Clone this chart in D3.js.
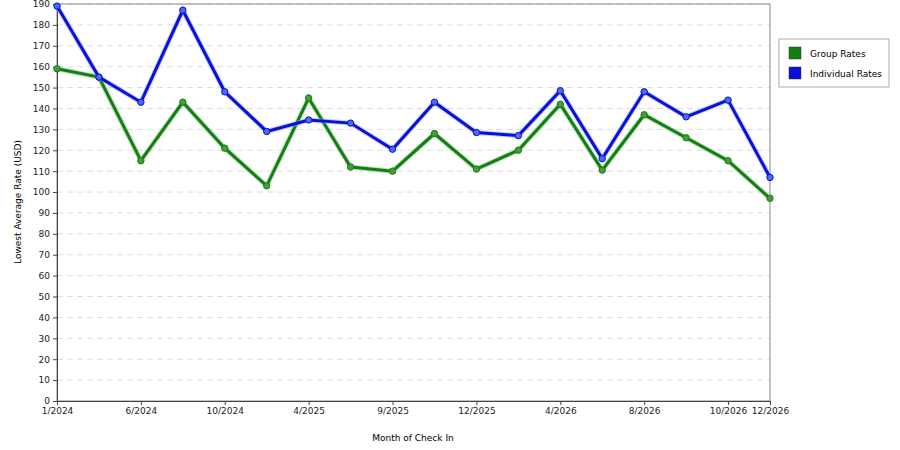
<!DOCTYPE html>
<html><head><meta charset="utf-8">
<script src="https://cdn.jsdelivr.net/npm/d3@7"></script>
<style>body{margin:0;background:#fff;font-family:"DejaVu Sans",sans-serif}</style>
</head><body><svg id="c" width="900" height="450"></svg>
<script>
const categories=["1/2024","3/2024","6/2024","8/2024","10/2024","1/2025","4/2025","6/2025","9/2025","11/2025","12/2025","2/2026","4/2026","6/2026","8/2026","9/2026","10/2026","12/2026"];
const tickLabels=["1/2024","","6/2024","","10/2024","","4/2025","","9/2025","","12/2025","","4/2026","","8/2026","","10/2026","12/2026"];
const groupRates=[159,155,115,143,121,103,145,112,110,128,111,120,142,110.5,137,126,115,97];
const individualRates=[189,155,143,187,148,129,134.5,133,120.5,143,128.5,127,148.5,116,148,136,144,107];
const yTicks=d3.range(0,191,10);
const svg=d3.select("#c");
const L=57,R=770,T=4,B=401;
const x=d3.scalePoint().domain(categories).range([L,R]);
const y=d3.scaleLinear().domain([0,190]).range([B,T]);
const g=svg.append("g");
g.selectAll("line.grid").data(yTicks.slice(1)).join("line").attr("x1",L).attr("x2",R)
 .attr("y1",d=>y(d)).attr("y2",d=>y(d)).attr("stroke","#ddd").attr("stroke-dasharray","6,4");
g.append("rect").attr("x",L).attr("y",T).attr("width",R-L).attr("height",B-T).attr("fill","none").attr("stroke","#888");
const ya=svg.append("g").attr("transform",`translate(${L},0)`).call(d3.axisLeft(y).tickValues(yTicks).tickSize(4).tickFormat(d3.format("d")));
const labeled=categories.filter((c,i)=>tickLabels[i]!=="");
const xa=svg.append("g").attr("transform",`translate(0,${B})`).call(d3.axisBottom(x).tickValues(labeled).tickSize(4).tickFormat(d=>tickLabels[categories.indexOf(d)]));
[ya,xa].forEach(a=>{a.select(".domain").attr("stroke","#444");a.selectAll("line").attr("stroke","#444");a.selectAll("text").attr("font-size",9).attr("fill","#222").attr("font-family","DejaVu Sans");});
svg.append("text").attr("x",413).attr("y",441).attr("text-anchor","middle").attr("font-size",9).text("Month of Check In");
svg.append("text").attr("transform","translate(21,202) rotate(-90)").attr("text-anchor","middle").attr("font-size",9).text("Lowest Average Rate (USD)");
const line=d3.line().x((d,i)=>x(categories[i])).y(d=>y(d));
[[groupRates,"#118011","#7fbf7f","#4a9a3a"],[individualRates,"#0a10d8","#8a9fff","#4a6ae8"]].forEach(([data,c,lc,mf])=>{
 svg.append("path").datum(data).attr("d",line).attr("fill","none").attr("stroke",lc).attr("stroke-width",5).attr("opacity",0.5);
 svg.append("path").datum(data).attr("d",line).attr("fill","none").attr("stroke",c).attr("stroke-width",3);
 svg.selectAll(null).data(data).join("circle").attr("cx",(d,i)=>x(categories[i])).attr("cy",d=>y(d)).attr("r",3.2).attr("fill",mf).attr("stroke",c).attr("stroke-width",1);
});
const lg=svg.append("g");
lg.append("rect").attr("x",779).attr("y",39).attr("width",110).attr("height",48).attr("fill","#fff").attr("stroke","#aaa");
[["Group Rates","#118011"],["Individual Rates","#0a10d8"]].forEach(([t,c],i)=>{
 lg.append("rect").attr("x",789).attr("y",47+i*20).attr("width",12).attr("height",12).attr("fill",c).attr("stroke","#333").attr("stroke-width",0.5);
 lg.append("text").attr("x",810).attr("y",57+i*20).attr("font-size",9).text(t);
});
</script></body></html>
